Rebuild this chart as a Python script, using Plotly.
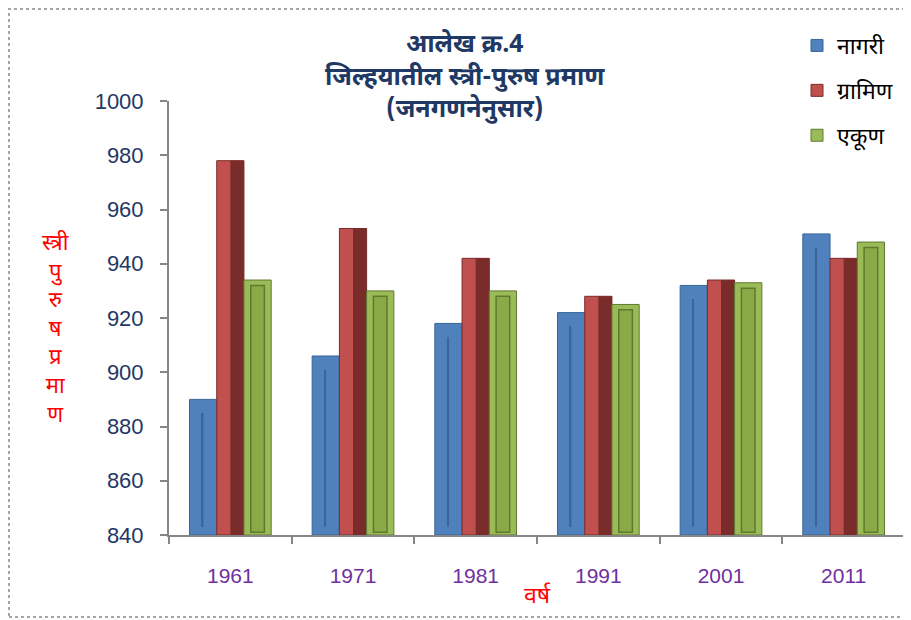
import plotly.graph_objects as go

years = ["1961", "1971", "1981", "1991", "2001", "2011"]
nagari = [890, 906, 918, 922, 932, 951]
gramin = [978, 953, 942, 928, 934, 942]
ekun = [934, 930, 930, 925, 933, 948]

series = [
    ("नागरी", nagari, "#4F81BD", "#3A6699"),
    ("ग्रामिण", gramin, "#C0504D", "#7A2C2B"),
    ("एकूण", ekun, "#9BBB59", "#5E7A2E"),
]

NAVY = "#1F3864"
PURPLE = "#7030A0"
AXIS = "#868686"
FONT = "Noto Sans Devanagari, Mangal, Lohit Devanagari, Noto Sans, sans-serif"
BASE = 840

# page body has an 8px margin, so figure is drawn 8px smaller and shifted
OFF = 8
FW, FH = 911 - OFF, 620 - OFF
# plot area in screen pixels
L, R, T, B = 169, 905, 101, 535


def px(xp):
    return (xp - L) / (R - L)


def py(yp):
    return (B - yp) / (B - T)


x = list(range(len(years)))
W = 0.222
START = -0.333

fig = go.Figure()
for i, (name, vals, col, dark) in enumerate(series):
    off = START + i * W
    fig.add_trace(go.Bar(
        x=x, y=[v - BASE for v in vals], base=BASE, name=name, legendgroup=name,
        offset=off, width=W, marker=dict(color=col, line=dict(color=dark, width=1)),
    ))
    if i == 1:
        # darker right face
        fig.add_trace(go.Bar(
            x=x, y=[v - BASE for v in vals], base=BASE, showlegend=False, hoverinfo="skip",
            offset=off + W / 2, width=W / 2, marker=dict(color=dark, line=dict(width=0)),
        ))
    elif i == 2:
        fig.add_trace(go.Bar(
            x=x, y=[v - BASE - 3 for v in vals], base=BASE + 1, showlegend=False,
            hoverinfo="skip", offset=off + W * 0.25, width=W * 0.5,
            marker=dict(color="#8AAA48", line=dict(color=dark, width=1.5)),
        ))
    else:
        fig.add_trace(go.Bar(
            x=x, y=[v - BASE - 8 for v in vals], base=BASE + 3, showlegend=False,
            hoverinfo="skip", offset=off + W * 0.45, width=W * 0.06,
            marker=dict(color=dark, line=dict(width=0)),
        ))

fig.update_layout(
    width=FW, height=FH,
    barmode="overlay",
    paper_bgcolor="white", plot_bgcolor="white",
    margin=dict(l=L - OFF, r=FW - (R - OFF), t=T - OFF, b=FH - (B - OFF), autoexpand=False),
    font=dict(family=FONT, color=NAVY),
    showlegend=True,
    legend=dict(xref="container", yref="container", x=(797 - OFF) / FW,
                y=1 - (24 - OFF) / FH, xanchor="left", yanchor="top", traceorder="grouped",
                tracegroupgap=12, font=dict(size=23, color="black"),
                bgcolor="rgba(0,0,0,0)"),
    xaxis=dict(range=[-0.5, 5.5], tickvals=x, ticktext=years, ticks="",
               tickfont=dict(size=21, color=PURPLE, family="Liberation Sans, sans-serif"),
               showline=True, linecolor=AXIS, linewidth=2, showgrid=False, zeroline=False,
               minor=dict(tick0=0.5, dtick=1, ticks="outside", ticklen=7, tickcolor=AXIS,
                          tickwidth=2),
               ticklabelstandoff=21),
    yaxis=dict(range=[BASE, 1000], dtick=20, ticks="outside", ticklen=7, tickcolor=AXIS,
               tickwidth=2, showline=True, linecolor=AXIS, linewidth=2, showgrid=False,
               zeroline=False, ticklabelstandoff=12,
               tickfont=dict(size=22, color=NAVY, family="Liberation Sans, sans-serif")),
)

fig.add_shape(type="rect", xref="paper", yref="paper",
              x0=px(9), x1=px(915), y0=py(617), y1=py(9),
              line=dict(color="#A6A6A6", width=2, dash="dot"))

fig.add_annotation(text="<b>आलेख क्र.4<br>जिल्हयातील स्त्री-पुरुष प्रमाण<br>(जनगणनेनुसार)</b>",
                   xref="paper", yref="paper", x=px(465), y=py(27),
                   xanchor="center", yanchor="top", showarrow=False,
                   font=dict(size=25, color=NAVY), align="center")
fig.add_annotation(text="स्त्री<br>पु<br>रु<br>ष<br>प्र<br>मा<br>ण",
                   xref="paper", yref="paper", x=px(55), y=py(228),
                   xanchor="center", yanchor="top", showarrow=False,
                   font=dict(size=22, color="red"), align="center")
fig.add_annotation(text="वर्ष", xref="paper", yref="paper", x=px(537), y=py(597),
                   xanchor="center", yanchor="middle", showarrow=False,
                   font=dict(size=23, color="red"))

fig.write_html("out.html")
